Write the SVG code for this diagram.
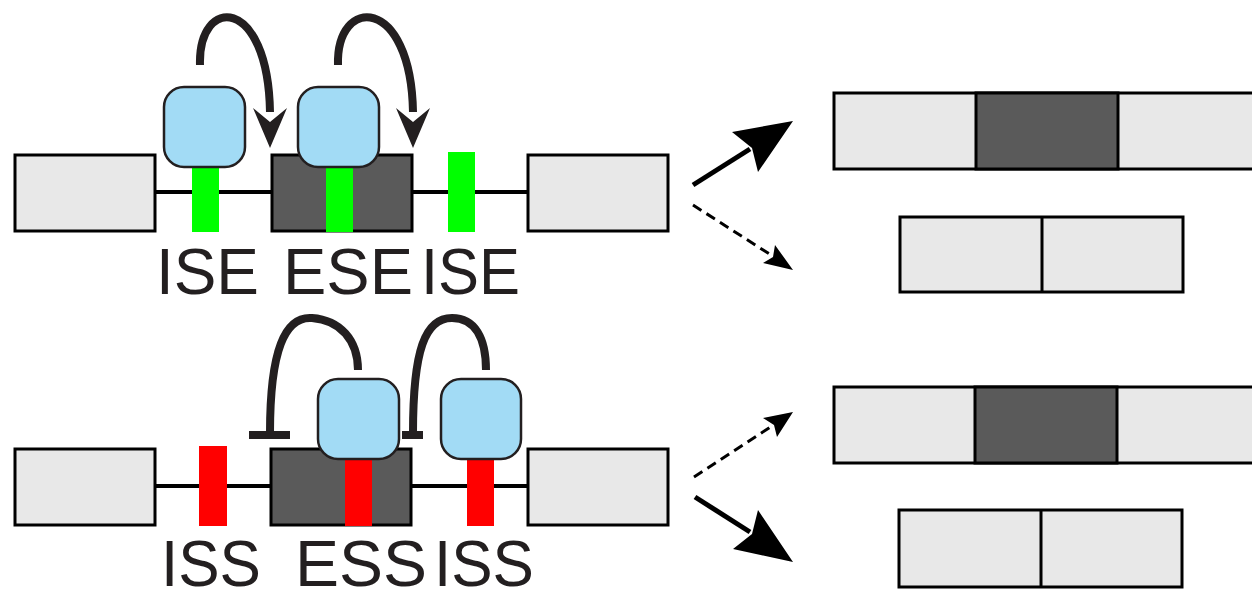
<svg xmlns="http://www.w3.org/2000/svg" width="1252" height="589" viewBox="0 0 1252 589">
<style>
.exon{fill:#e8e8e8;stroke:#000;stroke-width:3}
.alt{fill:#5a5a5a;stroke:#000;stroke-width:3}
.intron{stroke:#000;stroke-width:4}
.ese{fill:#00ff00}
.ess{fill:#ff0000}
.prot{fill:#a2dbf5;stroke:#231f20;stroke-width:2.5}
.arc{fill:none;stroke:#231f20;stroke-width:8}
.head{fill:#231f20}
.lbl{font-family:"Liberation Sans",Arial,sans-serif;font-size:65px;fill:#231f20}
.sol{stroke:#000;stroke-width:5;fill:none}
.dash{stroke:#000;stroke-width:3;stroke-dasharray:10 6;fill:none}
.ah{fill:#000}
</style>
<g id="top-premrna">
<line class="intron" x1="156" y1="192" x2="527" y2="192"/>
<rect class="exon" x="15" y="155" width="140" height="76"/>
<rect class="alt" x="272" y="155" width="140" height="76"/>
<rect class="exon" x="528" y="155" width="140" height="76"/>
<rect class="ese" x="192" y="160" width="27" height="72"/>
<rect class="ese" x="326" y="160" width="27" height="72"/>
<rect class="ese" x="448" y="152" width="27" height="80"/>
</g>
<g id="top-protein1"><rect class="prot" x="164" y="87" width="81" height="80" rx="20"/></g>
<g id="top-protein2"><rect class="prot" x="298" y="87" width="81" height="80" rx="20"/></g>
<g id="top-labels">
<text class="lbl" x="156" y="294" textLength="103" lengthAdjust="spacingAndGlyphs">ISE</text>
<text class="lbl" x="283" y="294" textLength="130" lengthAdjust="spacingAndGlyphs">ESE</text>
<text class="lbl" x="421" y="294" textLength="99" lengthAdjust="spacingAndGlyphs">ISE</text>
</g>
<g id="bottom-premrna">
<line class="intron" x1="156" y1="486" x2="527" y2="486"/>
<rect class="exon" x="15" y="449" width="140" height="76"/>
<rect class="alt" x="271" y="449" width="140" height="76"/>
<rect class="exon" x="528" y="449" width="140" height="76"/>
<rect class="ess" x="199" y="446" width="28" height="80"/>
<rect class="ess" x="345" y="455" width="27" height="71"/>
<rect class="ess" x="467" y="455" width="27" height="71"/>
</g>
<g id="bottom-protein1"><rect class="prot" x="318" y="379" width="81" height="80" rx="20"/></g>
<g id="bottom-protein2"><rect class="prot" x="441" y="379" width="80" height="80" rx="20"/></g>
<g id="bottom-labels">
<text class="lbl" x="161" y="586" textLength="100" lengthAdjust="spacingAndGlyphs">ISS</text>
<text class="lbl" x="295" y="586" textLength="132" lengthAdjust="spacingAndGlyphs">ESS</text>
<text class="lbl" x="434" y="586" textLength="100" lengthAdjust="spacingAndGlyphs">ISS</text>
</g>
<g id="connectors">
<path class="arc" d="M200,65 C198,-5 268,-5 270,112"/>
<polygon class="head" points="253,108 270,122 287,108 270,148"/>
<path class="arc" d="M338,65 C336,-5 411,-5 413,112"/>
<polygon class="head" points="396,108 413,122 430,108 413,148"/>
<path class="arc" d="M358,370 C358,340 340,320 312,318 C285,316 270,350 270,433"/>
<rect class="head" x="249" y="431" width="41" height="8"/>
<path class="arc" d="M486,370 C486,338 475,318 452,318 C425,318 413,350 413,433"/>
<rect class="head" x="402" y="431" width="21" height="8"/>
<line class="sol" x1="693" y1="185" x2="750" y2="149"/>
<polygon class="ah" points="793,121 732,132 752,148 758,172"/>
<line class="dash" x1="693" y1="205" x2="771" y2="255"/>
<polygon class="ah" points="793,270 775,245 773,257 763,263"/>
<line class="dash" x1="694" y1="477" x2="772" y2="426"/>
<polygon class="ah" points="793,412 763,418 774,425 777,437"/>
<line class="sol" x1="695" y1="497" x2="750" y2="532"/>
<polygon class="ah" points="793,562 758,510 752,534 733,549"/>
</g>
<g id="mrna-inclusion-top">
<rect class="exon" x="834" y="93" width="430" height="76"/>
<rect class="alt" x="976" y="93" width="142" height="76"/>
</g>
<g id="mrna-skip-top">
<rect class="exon" x="900" y="217" width="283" height="75"/>
<line class="exon" x1="1042" y1="217" x2="1042" y2="292"/>
</g>
<g id="mrna-inclusion-bottom">
<rect class="exon" x="834" y="387" width="430" height="76"/>
<rect class="alt" x="975" y="387" width="142" height="76"/>
</g>
<g id="mrna-skip-bottom">
<rect class="exon" x="899" y="510" width="283" height="77"/>
<line class="exon" x1="1041" y1="510" x2="1041" y2="587"/>
</g>
</svg>
